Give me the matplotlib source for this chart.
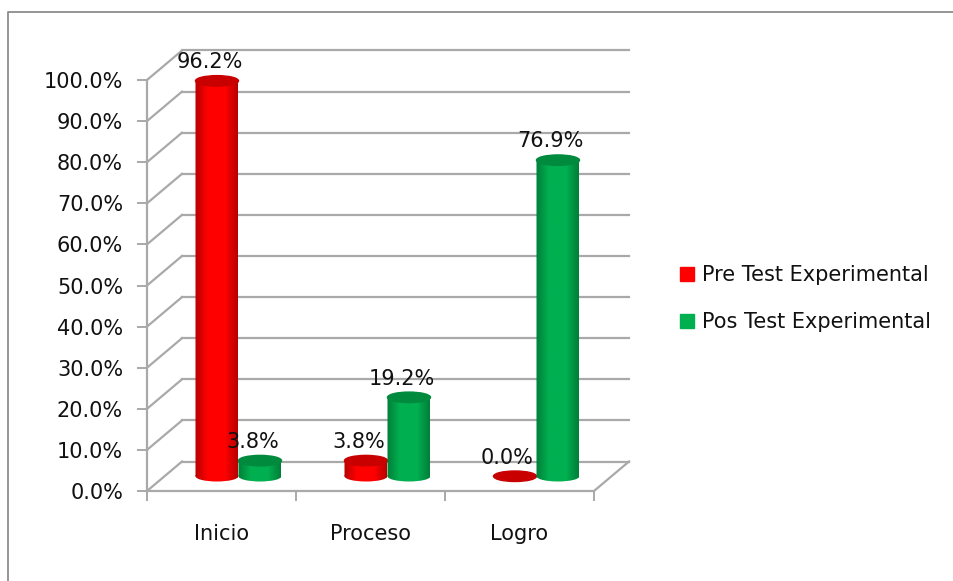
import numpy as np
import matplotlib
matplotlib.use('Agg')
import matplotlib.pyplot as plt
from matplotlib.colors import LinearSegmentedColormap
from matplotlib.lines import Line2D
from matplotlib.patches import Ellipse, Patch
from matplotlib.path import Path

categorias = ['Inicio', 'Proceso', 'Logro']
pre_test = [96.2, 3.8, 0.0]
pos_test = [3.8, 19.2, 76.9]
nombres = ['Pre Test Experimental', 'Pos Test Experimental']
ticks_y = [0, 10, 20, 30, 40, 50, 60, 70, 80, 90, 100]

GRIS = '#a9a9a9'
FUENTE = 'DejaVu Sans'

# escala de los ejes: 149 px por categoria, 4.11 px por punto
fondo_x = 35 / 149
fondo_y = 29.5 / 4.11
ancho = 43 / 149
alto_elipse = 10.5 / 4.11

fig = plt.figure(figsize=(9.54, 5.81), dpi=100)
ax = fig.add_axes([147 / 954, 90 / 581, 447 / 954, 411 / 581])
ax.set_xlim(0, 3)
ax.set_ylim(0, 100)

# marco de la imagen
fig.add_artist(Line2D([8 / 954, 8 / 954, 1], [0, 569 / 581, 569 / 581], color='#8c8c8c', lw=1.3))

# rejilla: pared de fondo, lateral y piso
for t in ticks_y:
    ax.plot([0, fondo_x], [t, t + fondo_y], color=GRIS, lw=1.6, clip_on=False, zorder=1)
    ax.plot([fondo_x, 3 + fondo_x], [t + fondo_y, t + fondo_y], color=GRIS, lw=1.6, clip_on=False, zorder=1)
ax.plot([3, 3 + fondo_x], [0, fondo_y], color=GRIS, lw=1.6, clip_on=False, zorder=1)

for lado in ['top', 'right']:
    ax.spines[lado].set_visible(False)
for lado in ['left', 'bottom']:
    ax.spines[lado].set_color(GRIS)
    ax.spines[lado].set_linewidth(1.6)

ax.set_yticks(ticks_y)
ax.set_yticklabels(['%.1f%%' % t for t in ticks_y], fontsize=15, family=FUENTE)
ax.tick_params(axis='y', length=7.2, width=1.4, color=GRIS, pad=10, labelcolor='#111111')
ax.set_xticks([0, 1, 2, 3])
ax.set_xticklabels([])
ax.tick_params(axis='x', which='major', length=7.2, width=1.4, color=GRIS)
ax.set_xticks([0.5, 1.5, 2.5], minor=True)
ax.set_xticklabels(categorias, minor=True, fontsize=15, family=FUENTE)
ax.tick_params(axis='x', which='minor', length=0, pad=23.5, labelcolor='#111111')


def cilindro(x, valor, claro, oscuro, tapa, orden):
    # x es el centro de la barra; la base queda a media profundidad
    base = fondo_y / 2
    if valor > 0:
        barra = ax.bar(x, valor, ancho, bottom=base, color=claro, alpha=0, clip_on=False, zorder=orden)[0]
        pie = Ellipse((x, base), ancho, alto_elipse, alpha=0, clip_on=False, zorder=orden)
        ax.add_patch(pie)
        contorno = Path.make_compound_path(
            barra.get_patch_transform().transform_path(barra.get_path()),
            pie.get_patch_transform().transform_path(pie.get_path()))
        cmap = LinearSegmentedColormap.from_list('c', [(0, oscuro), (0.3, claro), (0.7, claro), (1, oscuro)])
        grad = np.linspace(0, 1, 64).reshape(1, -1)
        im = ax.imshow(grad, cmap=cmap, extent=[x - ancho / 2, x + ancho / 2, base + valor, base - alto_elipse],
                       aspect='auto', zorder=orden + 0.1)
        im.set_clip_path(contorno, ax.transData)
    top = Ellipse((x, base + valor), ancho, alto_elipse, color=tapa, clip_on=False, zorder=orden + 0.2)
    ax.add_patch(top)
    ax.annotate('%.1f%%' % valor, (x, base + valor), xytext=(-5.5, 13.5), textcoords='offset points',
                ha='center', va='center', fontsize=15, family=FUENTE, color='#111111',
                annotation_clip=False, zorder=10)


for i in range(len(categorias)):
    centro = i + 0.5 + fondo_x / 2 - 0.5 / 149
    cilindro(centro - ancho / 2, pre_test[i], '#ff0000', '#b80000', '#c80000', 3)
    cilindro(centro + ancho / 2, pos_test[i], '#00b050', '#007f39', '#008a3e', 4)

ax.set_xlim(0, 3)
ax.set_ylim(0, 100)

manejadores = [Patch(color='#ff0000', label=nombres[0]), Patch(color='#00b050', label=nombres[1])]
fig.legend(handles=manejadores, loc='center left', bbox_to_anchor=(661 / 954, 1 - 298.5 / 581),
           frameon=False, prop={'family': FUENTE, 'size': 15}, handlelength=0.67, handleheight=0.67,
           handletextpad=0.38, labelspacing=1.3, labelcolor='#111111')

fig.savefig('out.png', dpi=100)
